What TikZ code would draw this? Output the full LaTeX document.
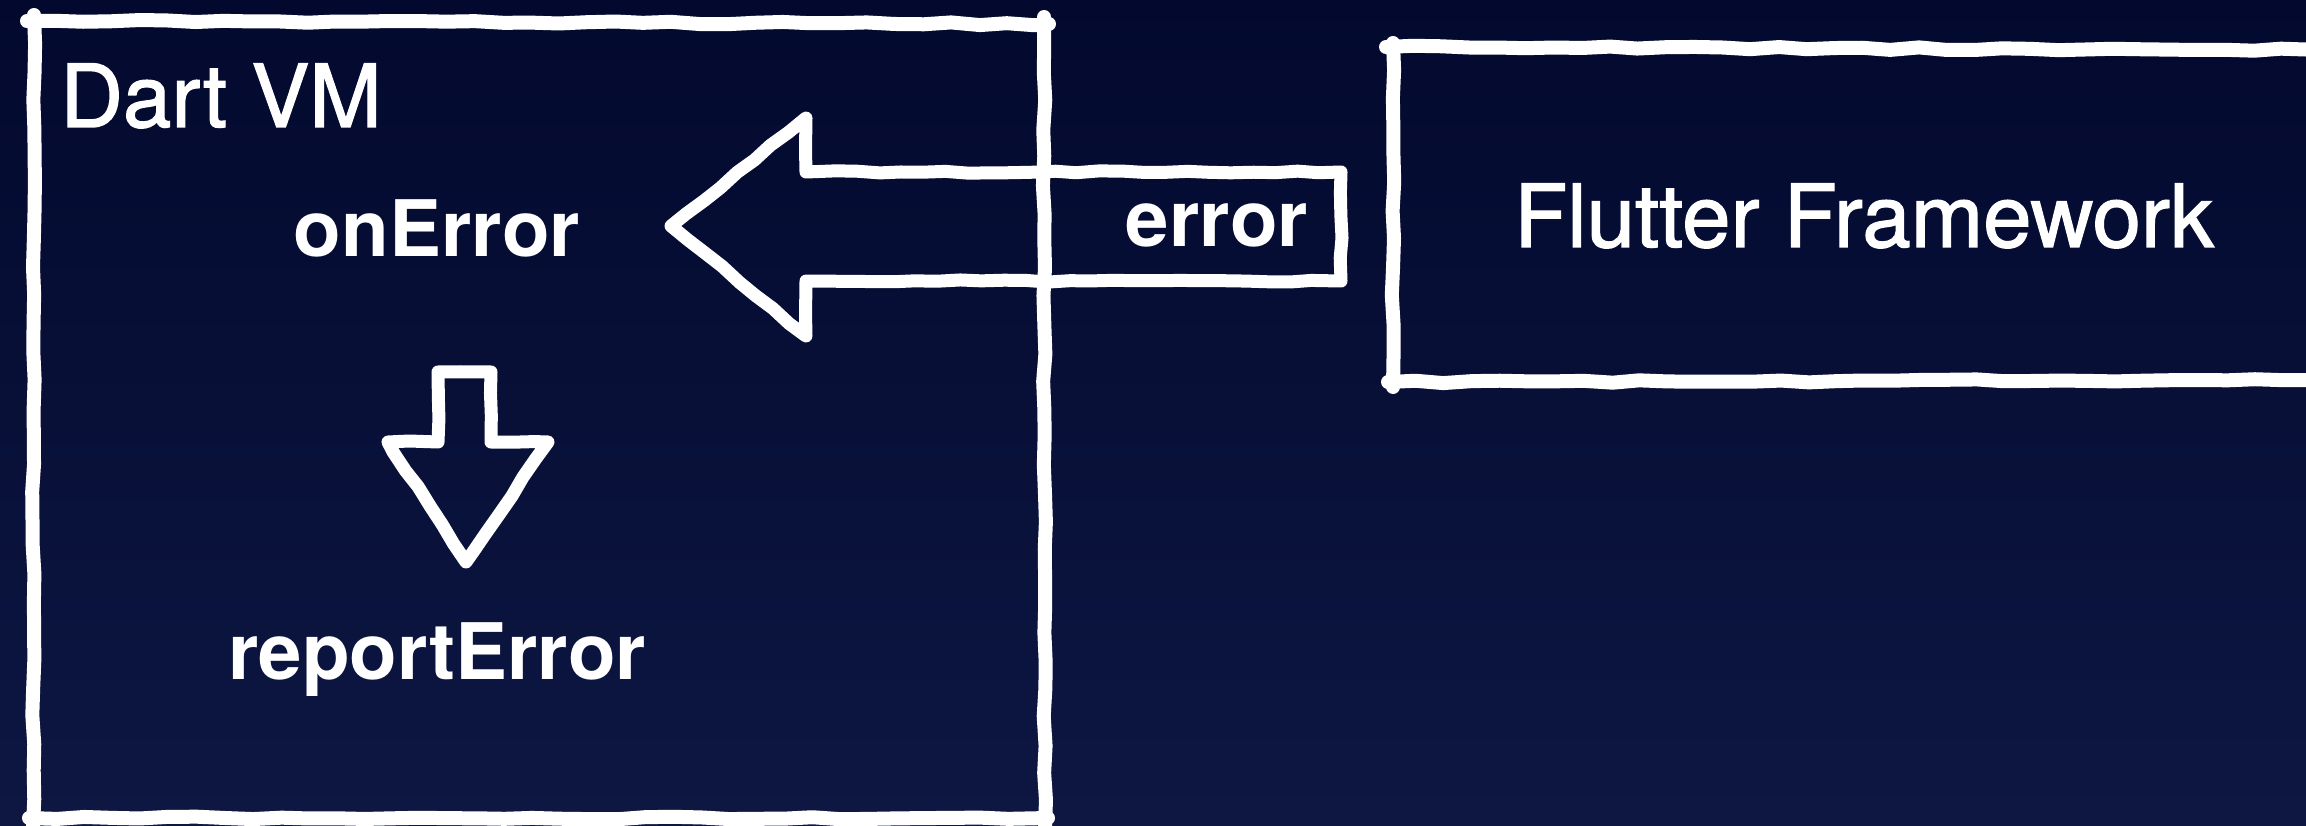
\documentclass[tikz,border=0pt]{standalone}
\usepackage{fontspec}
\setmainfont{TeX Gyre Heros}
\newfontfamily\regfont[FakeBold=1.5]{TeX Gyre Heros}
\usetikzlibrary{decorations.pathmorphing}
\definecolor{bgtop}{RGB}{3,9,46}
\definecolor{bgbot}{RGB}{13,23,66}
\tikzset{
  sketch/.style={draw=white, line width=14pt, line cap=round, line join=round,
    decorate, decoration={random steps, segment length=28pt, amplitude=1.3pt}},
  arrowshape/.style={draw=white, line width=13pt, line cap=round, line join=round,
    decorate, decoration={random steps, segment length=22pt, amplitude=1.2pt}},
  lbl/.style={text=white, inner sep=0pt, anchor=base, font=\regfont\fontsize{87}{90}\selectfont},
  blbl/.style={text=white, inner sep=0pt, anchor=base, font=\fontsize{78}{80}\selectfont\bfseries},
}
\pgfmathsetseed{7}
\begin{document}
\begin{tikzpicture}[x=1pt,y=-1pt]
\useasboundingbox (0,0) rectangle (2306,826);
\shade[top color=bgtop, bottom color=bgbot] (0,0) rectangle (2306,826);

% Dart VM box
\draw[sketch] (27,21) -- (1049,24);
\draw[sketch] (29,818) -- (1048,818);
\draw[sketch] (34,15) -- (33,826);
\draw[sketch] (1044,17) -- (1045,828);

% Flutter Framework box
\draw[sketch] (1386,47) -- (2320,50);
\draw[sketch] (1388,382) -- (2320,380);
\draw[sketch] (1393,43) -- (1393,387);

% texts
\node[lbl, anchor=base west] (dart) at (60,127) {Dart VM};
\node[blbl] (onerr) at (437,257) {onError};
\node[blbl] (report) at (437,679) {reportError};
\node[blbl] (err) at (1217,247) {error};
\node[lbl] (flutter) at (1864,247) {Flutter Framework};

% left arrow (error -> onError)
\coordinate (ltip) at (671,226);
\draw[arrowshape] (1341,172) -- (806,172) -- (806,118) -- (ltip) -- (806,336) -- (806,281) -- (1341,281) -- cycle;

% down arrow (onError -> reportError)
\coordinate (dtip) at (466,562);
\draw[arrowshape] (438,372) -- (491,372) -- (491,442) -- (548,442) -- (dtip) -- (388,442) -- (438,442) -- cycle;
\end{tikzpicture}
\end{document}
